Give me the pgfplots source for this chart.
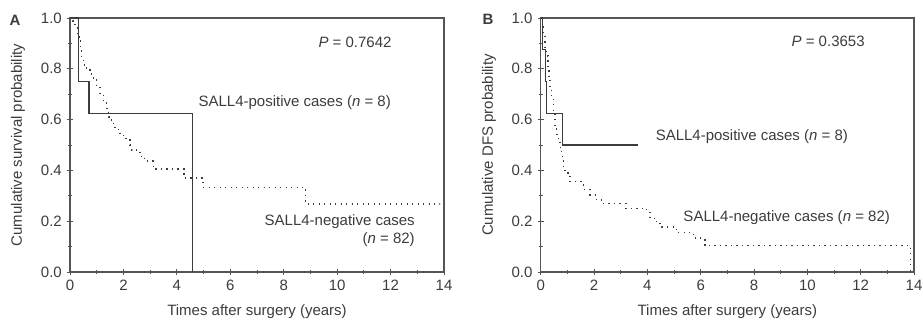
\documentclass[border=0pt]{standalone}
\usepackage{pgfplots}
\pgfplotsset{compat=1.18}
\usepackage{fontspec}
\setmainfont{Liberation Sans}
\definecolor{ink}{HTML}{3C3C3C}
\definecolor{axc}{HTML}{555555}
\begin{document}
\fontsize{15pt}{18pt}\selectfont
\begin{tikzpicture}
\useasboundingbox (0,0) rectangle (923pt,321pt);
\pgfplotsset{
 km/.style={
  scale only axis, height=254pt,
  xmin=0, xmax=14, ymin=0, ymax=1,
  xtick={0,2,4,6,8,10,12,14}, minor xtick={1,3,5,7,9,11,13},
  ytick={0,0.2,0.4,0.6,0.8,1.0}, minor ytick={0.1,0.3,0.5,0.7,0.9},
  tick align=center, major tick length=6pt, minor tick length=4pt,
  xtick pos=bottom, ytick pos=left,
  axis line style={axc, line width=1.1pt},
  every tick/.style={axc, line width=0.9pt},
  tick label style={font=\fontsize{15pt}{18pt}\selectfont, text=ink},
  /pgf/number format/assume math mode=true,
  yticklabel style={/pgf/number format/fixed, /pgf/number format/fixed zerofill, /pgf/number format/precision=1},
  xticklabel style={/pgf/number format/fixed, /pgf/number format/precision=0},
  xlabel style={at={(axis description cs:0.5,-0.1575)}, anchor=center, text=ink},
  xlabel={Times after surgery (years)},
  clip=false,
 },
 solidkm/.style={const plot, ink, line width=1.2pt, mark=none},
 dotkm/.style={const plot, ink, line width=1.3pt, dash pattern=on 1.3pt off 4.2pt, mark=none},
}
\node[font=\bfseries\fontsize{15pt}{18pt}\selectfont, text=ink] at (15pt,301pt) {A};
\node[font=\bfseries\fontsize{15pt}{18pt}\selectfont, text=ink] at (488pt,302pt) {B};
\begin{axis}[km, width=374pt, at={(70pt,49pt)}, anchor=south west,
  ylabel={Cumulative survival probability},
  ylabel style={at={(axis description cs:-0.139,0.5)}, anchor=center, text=ink}]
\addplot[solidkm] coordinates {(0,1) (0.31,0.75) (0.71,0.625) (4.58,0)};
\addplot[dotkm] coordinates {
(0,1.0) (0.1,0.988) (0.19,0.966) (0.27,0.94) (0.34,0.91) (0.4,0.875)
(0.44,0.84) (0.5,0.815) (0.62,0.795) (0.75,0.78) (0.87,0.76) (1.0,0.73)
(1.12,0.70) (1.25,0.67) (1.37,0.645) (1.44,0.61) (1.56,0.585) (1.69,0.565)
(1.81,0.545) (2.0,0.525) (2.25,0.50) (2.31,0.48) (2.62,0.455) (2.8,0.437)
(3.12,0.405) (4.27,0.37) (4.98,0.333) (8.82,0.268) (13.84,0.255) (13.9,0.255)};
\node[anchor=center, text=ink] at (axis cs:10.67,0.905) {\textit{P} = 0.7642};
\node[anchor=west, text=ink] at (axis cs:4.62,0.667) {SALL4-positive cases (\textit{n} = 8)};
\node[anchor=east, align=right, text=ink] at (axis cs:13.1,0.162) {SALL4-negative cases\\(\textit{n} = 82)};
\end{axis}
\begin{axis}[km, width=373.3pt, at={(540.7pt,49pt)}, anchor=south west,
  ylabel={Cumulative DFS probability},
  ylabel style={at={(axis description cs:-0.1385,0.5)}, anchor=center, text=ink}]
\addplot[solidkm] coordinates {(0,1) (0.08,0.875) (0.18,0.75) (0.22,0.625) (0.83,0.5) (3.64,0.5)};
\addplot[dotkm] coordinates {
(0,1.0) (0.06,0.97) (0.1,0.94) (0.16,0.88) (0.22,0.85) (0.27,0.81) (0.31,0.77)
(0.35,0.73) (0.41,0.68) (0.48,0.63) (0.54,0.575) (0.6,0.54) (0.66,0.51)
(0.73,0.48) (0.79,0.455) (0.85,0.415) (0.91,0.39) (1.1,0.355) (1.6,0.325)
(1.85,0.303) (2.1,0.283) (2.35,0.27) (3.2,0.25) (3.97,0.235) (4.1,0.21)
(4.35,0.19) (4.54,0.177) (5.1,0.155) (5.72,0.134) (6.0,0.126) (6.16,0.103)
(13.87,0)};
\node[anchor=center, text=ink] at (axis cs:10.78,0.907) {\textit{P} = 0.3653};
\node[anchor=west, text=ink] at (axis cs:4.12,0.533) {SALL4-positive cases (\textit{n} = 8)};
\node[anchor=west, text=ink] at (axis cs:5.16,0.215) {SALL4-negative cases (\textit{n} = 82)};
\end{axis}
\end{tikzpicture}
\end{document}
